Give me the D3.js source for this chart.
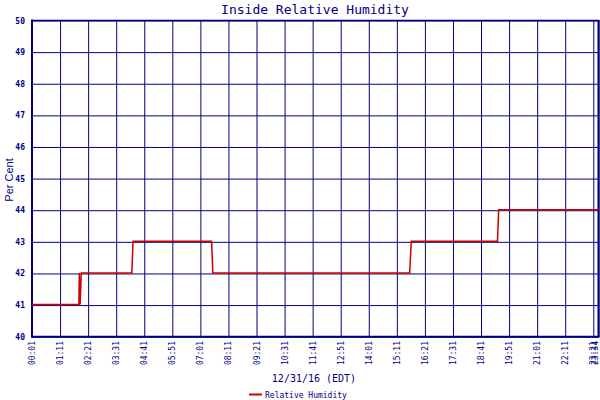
<!DOCTYPE html>
<html><head><meta charset="utf-8">
<script src="https://cdn.jsdelivr.net/npm/d3@7"></script>
<style>body{margin:0;background:#fff}svg{display:block}</style>
</head><body>
<svg id="c" width="600" height="400"></svg>
<script>
const times  = ["00:01","01:58","01:59","02:01","02:04","04:10","04:13","07:29","07:32","15:43","15:47","19:22","19:25","23:34"];
const values = [41,41,42,41,42,42,43,43,42,42,43,43,44,44];
const xTickLabels = ["00:01","01:11","02:21","03:31","04:41","05:51","07:01","08:11","09:21","10:31","11:41","12:51","14:01","15:11","16:21","17:31","18:41","19:51","21:01","22:11","23:21","23:34"];
const yTicks = [40,41,42,43,44,45,46,47,48,49,50];
const title = "Inside Relative Humidity";
const yTitle = "Per Cent";
const xTitle = "12/31/16 (EDT)";
const seriesName = "Relative Humidity";

const toMin = s => { const [h,m] = s.split(":").map(Number); return h*60+m; };
const navy = "#000080", red = "#cc0000";
const svg = d3.select("#c");
const L = 32, R = 598.5, T = 20.5, B = 336.7;
const x = d3.scaleLinear().domain([toMin(times[0]), toMin(times[times.length-1])]).range([L, R]);
const y = d3.scaleLinear().domain([40, 50]).range([B, T]);

// grid via axes
const gx = svg.append("g").attr("transform", `translate(0,${B})`)
  .call(d3.axisBottom(x).tickValues(xTickLabels.map(toMin)).tickSize(-(B-T)).tickFormat(""));
gx.selectAll("line").attr("stroke", navy).attr("stroke-width", 1);
gx.select(".domain").remove();
const gy = svg.append("g").attr("transform", `translate(${L},0)`)
  .call(d3.axisLeft(y).tickValues(yTicks).tickSize(-(R-L)).tickFormat(""));
gy.selectAll("line").attr("stroke", navy).attr("stroke-width", 1);
gy.select(".domain").remove();

// frame
svg.append("line").attr("x1", L).attr("x2", L).attr("y1", T-1).attr("y2", B+1).attr("stroke", navy).attr("stroke-width", 2);
svg.append("line").attr("x1", L).attr("x2", R+1).attr("y1", B).attr("y2", B).attr("stroke", navy).attr("stroke-width", 2);
svg.append("line").attr("x1", L).attr("x2", R+1).attr("y1", T).attr("y2", T).attr("stroke", navy).attr("stroke-width", 1.5);
svg.append("line").attr("x1", R).attr("x2", R).attr("y1", T).attr("y2", B).attr("stroke", navy).attr("stroke-width", 2);

// y labels
svg.append("g").selectAll("text").data(yTicks).join("text")
  .attr("x", 25).attr("y", d => y(d) + 3)
  .attr("text-anchor", "end").attr("fill", navy)
  .attr("font-family", "DejaVu Sans Mono, monospace").attr("font-weight", "bold").attr("font-size", 8)
  .text(d => d);

// x labels (rotated)
svg.append("g").selectAll("text").data(xTickLabels).join("text")
  .attr("transform", d => `translate(${Math.min(x(toMin(d)) + 3, 597.5)},${341}) rotate(-90)`)
  .attr("text-anchor", "end").attr("fill", navy)
  .attr("font-family", "DejaVu Sans Mono, monospace").attr("font-size", 8)
  .text(d => d);

// line
const data = times.map((t, i) => ({ t: toMin(t), v: values[i] }));
svg.append("path").datum(data)
  .attr("d", d3.line().x(d => x(d.t)).y(d => y(d.v) - 0.5))
  .attr("fill", "none").attr("stroke", red).attr("stroke-width", 1.5);

// titles
svg.append("text").attr("x", 315).attr("y", 14).attr("text-anchor", "middle")
  .attr("fill", navy).attr("font-family", "DejaVu Sans Mono, monospace").attr("font-size", 13).text(title);
svg.append("text").attr("transform", "translate(12.5,180) rotate(-90)").attr("text-anchor", "middle")
  .attr("fill", navy).attr("font-family", "Liberation Sans, Arial, sans-serif").attr("font-size", 11).text(yTitle);
svg.append("text").attr("x", 314).attr("y", 382).attr("text-anchor", "middle")
  .attr("fill", navy).attr("font-family", "DejaVu Sans Mono, monospace").attr("font-size", 10).text(xTitle);

// legend
svg.append("line").attr("x1", 249).attr("x2", 262).attr("y1", 394.5).attr("y2", 394.5).attr("stroke", red).attr("stroke-width", 2);
svg.append("text").attr("x", 265).attr("y", 398).attr("fill", navy)
  .attr("font-family", "DejaVu Sans Mono, monospace").attr("font-size", 8).text(seriesName);
</script>
</body></html>
